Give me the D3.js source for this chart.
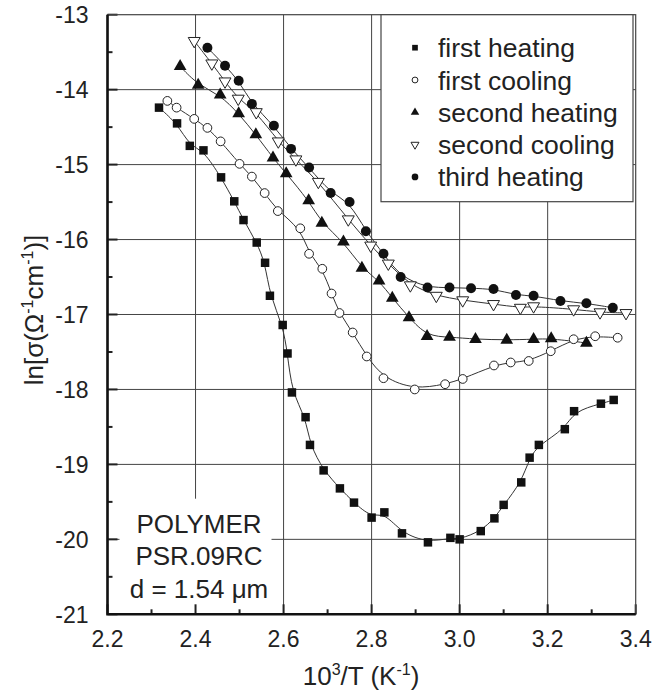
<!DOCTYPE html>
<html>
<head>
<meta charset="utf-8">
<script src="https://cdn.jsdelivr.net/npm/d3@7"></script>
<style>
  body { margin: 0; background: #fff; }
  svg text { font-family: "Liberation Sans", Arial, sans-serif; fill: #222; }
</style>
</head>
<body>
<svg class="chart"></svg>
<script>
const W = 669;
const H = 698;

const margin = { top: 14.7, left: 107.5, right: 33.3, bottom: 83.7 };
const width = W - margin.left - margin.right;
const height = H - margin.top - margin.bottom;

// data: [10^3/T, ln sigma]
const firstHeating = [
    [2.317, -14.24], [2.358, -14.45], [2.387, -14.75], [2.418, -14.81],
    [2.458, -15.17], [2.488, -15.49], [2.509, -15.74], [2.539, -16.04],
    [2.558, -16.31], [2.569, -16.75], [2.598, -17.14], [2.609, -17.52],
    [2.619, -18.04], [2.650, -18.37], [2.660, -18.74], [2.691, -19.08],
    [2.728, -19.32], [2.760, -19.51], [2.800, -19.71], [2.829, -19.64],
    [2.869, -19.92], [2.928, -20.04], [2.979, -19.98], [3.000, -20.00],
    [3.048, -19.89], [3.079, -19.72], [3.100, -19.54], [3.140, -19.24],
    [3.159, -18.91], [3.180, -18.74], [3.239, -18.53], [3.260, -18.29],
    [3.321, -18.19], [3.350, -18.14]
];
const firstCooling = [
    [2.336, -14.15], [2.357, -14.24], [2.397, -14.39], [2.427, -14.51],
    [2.457, -14.69], [2.500, -14.99], [2.528, -15.16], [2.557, -15.38],
    [2.587, -15.62], [2.638, -15.85], [2.658, -16.19], [2.688, -16.39],
    [2.709, -16.72], [2.727, -16.98], [2.757, -17.24], [2.789, -17.56],
    [2.827, -17.85], [2.898, -18.00], [2.967, -17.93], [3.007, -17.86],
    [3.078, -17.68], [3.116, -17.64], [3.157, -17.62], [3.207, -17.49],
    [3.259, -17.33], [3.308, -17.29], [3.359, -17.31]
];
const secondHeating = [
    [2.365, -13.69], [2.406, -13.94], [2.456, -14.07], [2.498, -14.32],
    [2.537, -14.60], [2.576, -14.91], [2.606, -15.12], [2.657, -15.48],
    [2.687, -15.78], [2.736, -16.03], [2.778, -16.38], [2.817, -16.55],
    [2.847, -16.78], [2.885, -17.04], [2.926, -17.29], [2.977, -17.30],
    [3.036, -17.33], [3.107, -17.34], [3.168, -17.33], [3.208, -17.32],
    [3.288, -17.38]
];
const secondCooling = [
    [2.397, -13.35], [2.437, -13.65], [2.467, -13.89], [2.497, -14.12],
    [2.538, -14.30], [2.588, -14.69], [2.628, -14.93], [2.679, -15.23],
    [2.747, -15.73], [2.798, -16.08], [2.838, -16.32], [2.888, -16.61],
    [2.947, -16.75], [3.007, -16.81], [3.077, -16.86], [3.138, -16.91],
    [3.168, -16.89], [3.259, -16.93], [3.319, -16.97], [3.378, -16.98]
];
const thirdHeating = [
    [2.427, -13.44], [2.467, -13.68], [2.498, -13.88], [2.528, -14.19],
    [2.578, -14.48], [2.617, -14.79], [2.658, -15.04], [2.707, -15.38],
    [2.750, -15.50], [2.787, -15.89], [2.827, -16.19], [2.866, -16.50],
    [2.927, -16.64], [2.977, -16.64], [3.026, -16.65], [3.077, -16.66],
    [3.128, -16.74], [3.168, -16.75], [3.229, -16.82], [3.288, -16.85],
    [3.348, -16.91]
];

const seriesNames = ['first heating', 'first cooling', 'second heating', 'second cooling', 'third heating'];
const seriesData = [firstHeating, firstCooling, secondHeating, secondCooling, thirdHeating];
const xTicks = [2.2, 2.4, 2.6, 2.8, 3.0, 3.2, 3.4];
const yTicks = [-13, -14, -15, -16, -17, -18, -19, -20, -21];
const noteLines = ['POLYMER', 'PSR.09RC', 'd = 1.54 \u03bcm'];

// marker look per series
const markers = [
    { type: d3.symbolSquare, size: 72, fill: '#111', stroke: 'none' },
    { type: d3.symbolCircle, size: 60, fill: '#fff', stroke: '#222' },
    { type: d3.symbolTriangle, size: 70, fill: '#111', stroke: 'none' },
    { type: d3.symbolTriangle, size: 62, fill: '#fff', stroke: '#222', flip: true },
    { type: d3.symbolCircle, size: 78, fill: '#111', stroke: 'none' }
];

const svg = d3.select('svg.chart')
    .attr('width', W)
    .attr('height', H);

const g = svg.append('g')
    .attr('transform', `translate(${margin.left},${margin.top})`);

const x = d3.scaleLinear().domain([2.2, 3.4]).range([0, width]);
const y = d3.scaleLinear().domain([-21, -13]).range([height, 0]);

// grid
g.append('g')
    .selectAll('line')
    .data(xTicks.slice(1, -1))
    .join('line')
    .attr('x1', d => x(d)).attr('x2', d => x(d))
    .attr('y1', 0).attr('y2', height)
    .attr('stroke', '#444').attr('stroke-width', 1);

g.append('g')
    .selectAll('line')
    .data(yTicks.slice(1, -1))
    .join('line')
    .attr('x1', 0).attr('x2', width)
    .attr('y1', d => y(d)).attr('y2', d => y(d))
    .attr('stroke', '#444').attr('stroke-width', 1);

// white box behind the sample note
g.append('rect')
    .attr('x', 12).attr('y', 484)
    .attr('width', 152).attr('height', height - 484)
    .attr('fill', '#fff');

// minor/major ticks inside the frame
const xMinor = d3.range(2.3, 3.4, 0.2);
const yMinor = d3.range(-20.5, -13, 1);

g.append('g')
    .selectAll('line')
    .data(xMinor)
    .join('line')
    .attr('x1', d => x(d)).attr('x2', d => x(d))
    .attr('y1', height).attr('y2', height - 5)
    .attr('stroke', '#222').attr('stroke-width', 2);

g.append('g')
    .selectAll('line')
    .data(xTicks)
    .join('line')
    .attr('x1', d => x(d)).attr('x2', d => x(d))
    .attr('y1', height).attr('y2', height - 10)
    .attr('stroke', '#222').attr('stroke-width', 2);

g.append('g')
    .selectAll('line')
    .data(yMinor)
    .join('line')
    .attr('x1', 0).attr('x2', 5)
    .attr('y1', d => y(d)).attr('y2', d => y(d))
    .attr('stroke', '#222').attr('stroke-width', 2);

g.append('g')
    .selectAll('line')
    .data(yTicks)
    .join('line')
    .attr('x1', 0).attr('x2', 10)
    .attr('y1', d => y(d)).attr('y2', d => y(d))
    .attr('stroke', '#222').attr('stroke-width', 2);

// frame
g.append('rect')
    .attr('width', width).attr('height', height)
    .attr('fill', 'none').attr('stroke', '#444').attr('stroke-width', 1.2);
g.append('path')
    .attr('d', `M0,0V${height}H${width}`)
    .attr('fill', 'none').attr('stroke', '#111').attr('stroke-width', 2.6);

// tick labels
g.append('g')
    .selectAll('text')
    .data(yTicks)
    .join('text')
    .attr('x', -19)
    .attr('y', d => y(d) + 8.5)
    .attr('text-anchor', 'end')
    .attr('font-size', 23)
    .text(d => d);

g.append('g')
    .selectAll('text')
    .data(xTicks)
    .join('text')
    .attr('x', d => x(d))
    .attr('y', height + 33)
    .attr('text-anchor', 'middle')
    .attr('font-size', 23)
    .text(d => d.toFixed(1));

// fitted curves and markers
const line = d3.line()
    .x(d => x(d[0]))
    .y(d => y(d[1]))
    .curve(d3.curveBasis);

seriesData.forEach((data, i) => {
    g.append('path')
        .datum(data)
        .attr('d', line)
        .attr('fill', 'none')
        .attr('stroke', '#333')
        .attr('stroke-width', 1);
});

seriesData.forEach((data, i) => {
    const m = markers[i];
    g.append('g')
        .selectAll('path')
        .data(data)
        .join('path')
        .attr('d', d3.symbol().type(m.type).size(m.size))
        .attr('transform', d => `translate(${x(d[0])},${y(d[1])})` + (m.flip ? ' rotate(180)' : ''))
        .attr('fill', m.fill)
        .attr('stroke', m.stroke)
        .attr('stroke-width', 1);
});

// legend
const legend = g.append('g')
    .attr('transform', `translate(${381 - margin.left},0)`);

legend.append('rect')
    .attr('width', 252).attr('height', 187)
    .attr('fill', '#fff')
    .attr('stroke', '#444').attr('stroke-width', 1.2);

seriesNames.forEach((name, i) => {
    const m = markers[i];
    const row = legend.append('g')
        .attr('transform', `translate(0,${33 + i * 32.3})`);
    row.append('path')
        .attr('d', d3.symbol().type(m.type).size(m.size * 0.45))
        .attr('transform', `translate(34,0)` + (m.flip ? ' rotate(180)' : ''))
        .attr('fill', m.fill)
        .attr('stroke', m.stroke)
        .attr('stroke-width', 1);
    row.append('text')
        .attr('x', 57)
        .attr('y', 9.5)
        .attr('font-size', 26.5)
        .text(name);
});

// sample note
g.append('g')
    .selectAll('text')
    .data(noteLines)
    .join('text')
    .attr('x', 199 - margin.left)
    .attr('y', (d, i) => 533 - margin.top + i * 32.5)
    .attr('text-anchor', 'middle')
    .attr('font-size', 26)
    .text(d => d);

// axis titles
const xTitle = svg.append('text')
    .attr('x', 361)
    .attr('y', 685)
    .attr('text-anchor', 'middle')
    .attr('font-size', 26);
xTitle.append('tspan').text('10');
xTitle.append('tspan').attr('font-size', 16).attr('dy', -10).text('3');
xTitle.append('tspan').attr('dy', 10).text('/T (K');
xTitle.append('tspan').attr('font-size', 16).attr('dy', -10).text('-1');
xTitle.append('tspan').attr('dy', 10).text(')');

const yTitle = svg.append('text')
    .attr('transform', 'translate(43,310) rotate(-90)')
    .attr('text-anchor', 'middle')
    .attr('font-size', 26);
yTitle.append('tspan').text('ln[\u03c3(\u03a9');
yTitle.append('tspan').attr('font-size', 16).attr('dy', -10).text('-1');
yTitle.append('tspan').attr('dy', 10).text('cm');
yTitle.append('tspan').attr('font-size', 16).attr('dy', -10).text('-1');
yTitle.append('tspan').attr('dy', 10).text(')]');
</script>
</body>
</html>
